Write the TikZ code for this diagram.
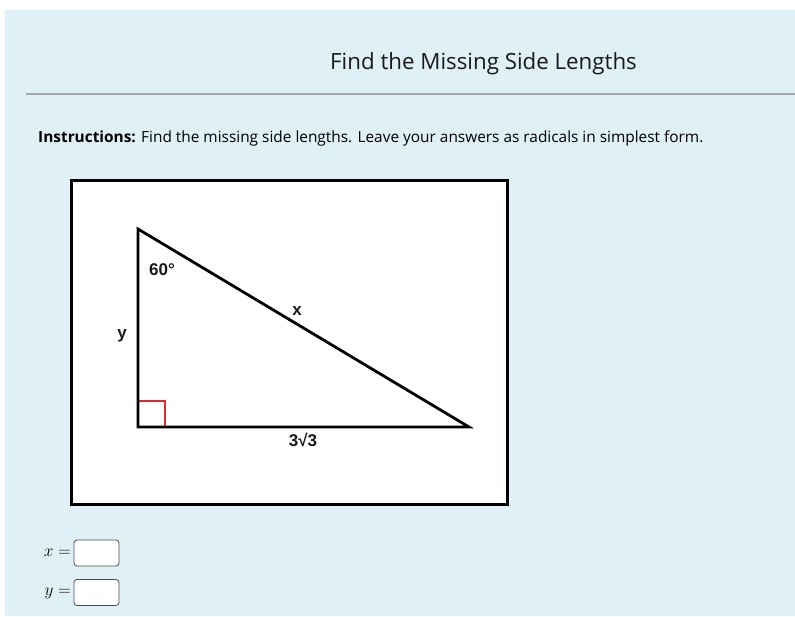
\documentclass[tikz,border=0pt]{standalone}
\usepackage{fontspec}
\setmainfont{Open Sans}
\newfontfamily\arialfont{Liberation Sans}
\definecolor{bgblue}{HTML}{DFF0F7}
\definecolor{rulegray}{HTML}{A3A9AF}
\definecolor{anglered}{HTML}{E0282E}
\definecolor{inkcol}{HTML}{1A1A1A}
\begin{document}
\begin{tikzpicture}[x=1pt,y=-1pt,
  figlabel/.style={font=\arialfont\bfseries\fontsize{17}{19}\selectfont, text=inkcol, inner sep=0pt},
  ansbox/.style={draw=black!70, fill=white, rounded corners=3pt, line width=0.8pt, minimum width=45pt, minimum height=26pt, inner sep=0pt},
  thick line/.style={line width=2.8pt, line join=miter}]
\useasboundingbox (0,0) rectangle (795,616);
\fill[white] (0,0) rectangle (795,616);
\fill[bgblue] (5,10) rectangle (795,616);
% title
\node[inner sep=0pt, anchor=center, text=inkcol, font=\fontsize{22.3}{26}\selectfont] (title) at (483.5,64) {Find the Missing Side Lengths};
\coordinate (r1) at (26,94);
\coordinate (r2) at (795,94);
\draw[rulegray, line width=1.2pt] (r1) -- (r2);
% instructions
\node[inner sep=0pt, anchor=west, text=black, font=\fontsize{15.4}{18}\selectfont] (instr) at (38,138.5) {\textbf{Instructions:} Find the missing side lengths. Leave your answers as radicals in simplest form.};
% frame
\node[draw=black, fill=white, line width=3pt, minimum width=436pt, minimum height=324pt, inner sep=0pt] (frame) at (289.5,342.5) {};
% triangle
\coordinate (A) at (138,229);
\coordinate (B) at (138,427);
\coordinate (C) at (469,427);
\draw[anglered, line width=1.3pt] (138,401) -- (165,401) -- (165,427);
\draw[thick line] (A) -- (B) -- (C) -- cycle;
\node[figlabel] (ang) at (162,270) {60°};
\node[figlabel] (lx) at (297,311) {x};
\node[figlabel] (ly) at (122,336) {y};
\node[figlabel] (lb) at (303,440) {3√3};
% answers
\node[anchor=east, inner sep=0pt, font=\fontsize{16}{18}\selectfont] (xeq) at (71,553) {$x=$};
\node[ansbox] (xbox) at (96.5,553) {};
\node[anchor=east, inner sep=0pt, font=\fontsize{16}{18}\selectfont] (yeq) at (71,593) {$y=$};
\node[ansbox] (ybox) at (96.5,592.5) {};
\end{tikzpicture}
\end{document}
